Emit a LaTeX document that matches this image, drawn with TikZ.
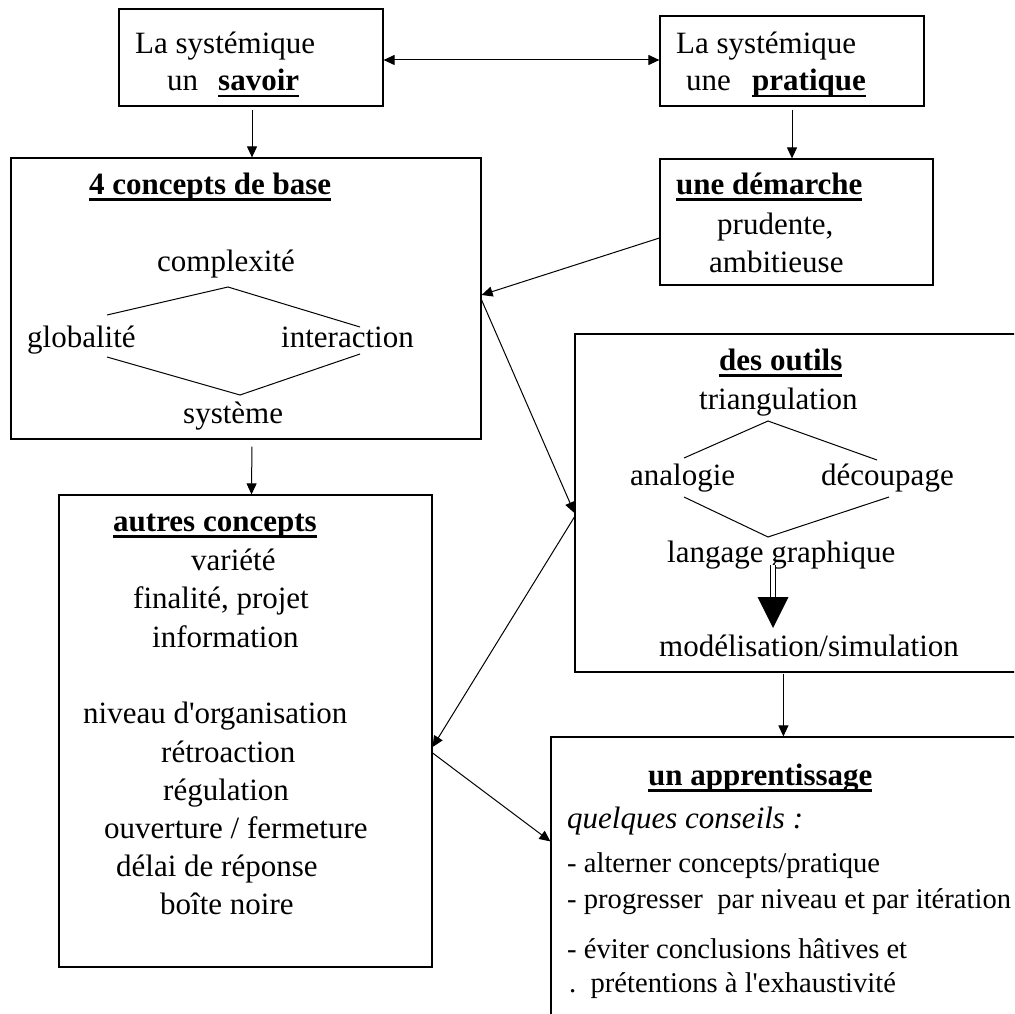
\documentclass[tikz,border=0pt]{standalone}
\usepackage{fontspec}
\setmainfont{Liberation Serif}
\usetikzlibrary{arrows.meta,calc}
\newcommand\szA{\fontsize{31}{36}\selectfont}
\newcommand\szB{\fontsize{28.6}{34}\selectfont}
\newcommand\myul[1]{\setbox0\hbox{\bfseries #1}\rlap{\rule[-6.5pt]{\wd0}{2.5pt}}\box0}
\tikzset{
  box/.style={draw, line width=1.2pt, rectangle, inner sep=0pt},
  txt/.style={inner sep=0pt, anchor=base west, font=\szA},
  txtb/.style={inner sep=0pt, anchor=base west, font=\szB},
  arr/.style={-{Triangle[length=11pt,width=10pt]}, line width=1pt},
  arrd/.style={{Triangle[length=11pt,width=10pt]}-{Triangle[length=11pt,width=10pt]}, line width=1pt},
  thin/.style={line width=1pt}
}
\begin{document}
\begin{tikzpicture}[x=1pt,y=-1pt]
\useasboundingbox (0,0) rectangle (1014,1014);
\clip (0,0) rectangle (1014,1014);
\fill[white] (0,0) rectangle (1014,1014);

% boxes
\node[box, minimum width=264, minimum height=97] (savoir) at (251,57.5) {};
\node[box, minimum width=264, minimum height=90] (pratique) at (792,61) {};
\node[box, minimum width=470, minimum height=281] (concepts) at (246,298.5) {};
\node[box, minimum width=273, minimum height=126] (demarche) at (796.5,222) {};
\node[box, minimum width=465, minimum height=338] (outils) at (807.5,503) {};
\node[box, minimum width=373, minimum height=472] (autres) at (245.5,731) {};
\node[box, minimum width=489, minimum height=303] (appr) at (795.5,888.5) {};

% savoir
\node[txt] (s1) at (135,54) {La systémique};
\node[txt] (s2) at (167,91) {un};
\node[txt] (s3) at (218,91) {\myul{savoir}};
% pratique
\node[txt] (p1) at (676,54) {La systémique};
\node[txt] (p2) at (686,91) {une};
\node[txt] (p3) at (752,91) {\myul{pratique}};
% demarche
\node[txt] (d1) at (676,194) {\myul{une démarche}};
\node[txt] (d2) at (717,234) {prudente,};
\node[txt] (d3) at (709,272) {ambitieuse};
% concepts
\node[txt] (c0) at (89,194) {\myul{4 concepts de base}};
\node[txt] (c1) at (157,271) {complexité};
\node[txt] (c2) at (27,347) {globalité};
\node[txt] (c3) at (281,347) {interaction};
\node[txt] (c4) at (183,423) {système};
\coordinate (ca) at (107,315);
\coordinate (cb) at (228,287);
\coordinate (cc) at (360,327);
\coordinate (cd) at (107,357);
\coordinate (ce) at (240,395);
\coordinate (cf) at (360,354);
\draw[thin] (ca) -- (cb) -- (cc);
\draw[thin] (cd) -- (ce) -- (cf);
% outils
\node[txt] (o0) at (719,370) {\myul{des outils}};
\node[txt] (o1) at (699,409) {triangulation};
\node[txt] (o2) at (630,485) {analogie};
\node[txt] (o3) at (821,485) {découpage};
\node[txt] (o4) at (667,562) {langage graphique};
\node[txt] (o5) at (659,656) {modélisation/simulation};
\coordinate (oa) at (684,458);
\coordinate (ob) at (768,421);
\coordinate (oc) at (877,460);
\coordinate (od) at (684,497);
\coordinate (oe) at (768,537);
\coordinate (of) at (889,497);
\draw[thin] (oa) -- (ob) -- (oc);
\draw[thin] (od) -- (oe) -- (of);
\coordinate (dtop) at (773,565);
\coordinate (dtip) at (773,628);
\draw[double, double distance=3.5pt, line width=1.2pt] (dtop) -- ++(0,33);
\fill (dtip) -- ++(-15.5,-31) -- ++(31,0) -- cycle;
% autres
\node[txt] (a0) at (113,531) {\myul{autres concepts}};
\node[txt] (a1) at (191,570) {variété};
\node[txt] (a2) at (133,608) {finalité, projet};
\node[txt] (a3) at (152,647) {information};
\node[txt] (a4) at (83,723) {niveau d\textquotesingle organisation};
\node[txt] (a5) at (161,762) {rétroaction};
\node[txt] (a6) at (163,800) {régulation};
\node[txt] (a7) at (104,838) {ouverture / fermeture};
\node[txt] (a8) at (116,876) {délai de réponse};
\node[txt] (a9) at (160,914) {boîte noire};
% apprentissage
\node[txt] (l0) at (648,785) {\myul{un apprentissage}};
\node[txt] (l1) at (567,828) {\itshape quelques conseils :};
\node[txtb] (l2) at (567,872) {- alterner concepts/pratique};
\node[txtb] (l3) at (567,908) {- progresser~~par niveau et par itération};
\node[txtb] (l4) at (567,958) {- éviter conclusions hâtives et};
\node[txtb] (l5) at (569,992) {.~~prétentions à l\textquotesingle exhaustivité};

% connectors
\draw[arrd] ([yshift=-2.5pt]savoir.east) -- ([yshift=-2.5pt]pratique.west |- savoir.east);
\draw[arr, shorten <=3pt] ([xshift=1pt]savoir.south) -- ([xshift=6pt]concepts.north);
\draw[arr, shorten <=3pt] (pratique.south) -- (pratique.south |- demarche.north);
\draw[arr] ([yshift=-16pt]demarche.west) -- ([yshift=3.5pt]concepts.east);
\draw[arr] ([yshift=-1.5pt]concepts.east) -- ([yshift=-10pt]outils.west);
\draw[arr] ([yshift=-14pt]outils.west) -- ([yshift=-16pt]autres.east);
\draw[arr] ([yshift=-22pt]autres.east) -- ([yshift=-105pt]appr.north west);
\draw[arr, shorten <=1pt] ([xshift=209pt]outils.south west) -- ([xshift=233pt]appr.north west);
\draw[arr, shorten <=7pt] ([xshift=6pt]concepts.south) -- ([xshift=6pt]autres.north);
\end{tikzpicture}
\end{document}
